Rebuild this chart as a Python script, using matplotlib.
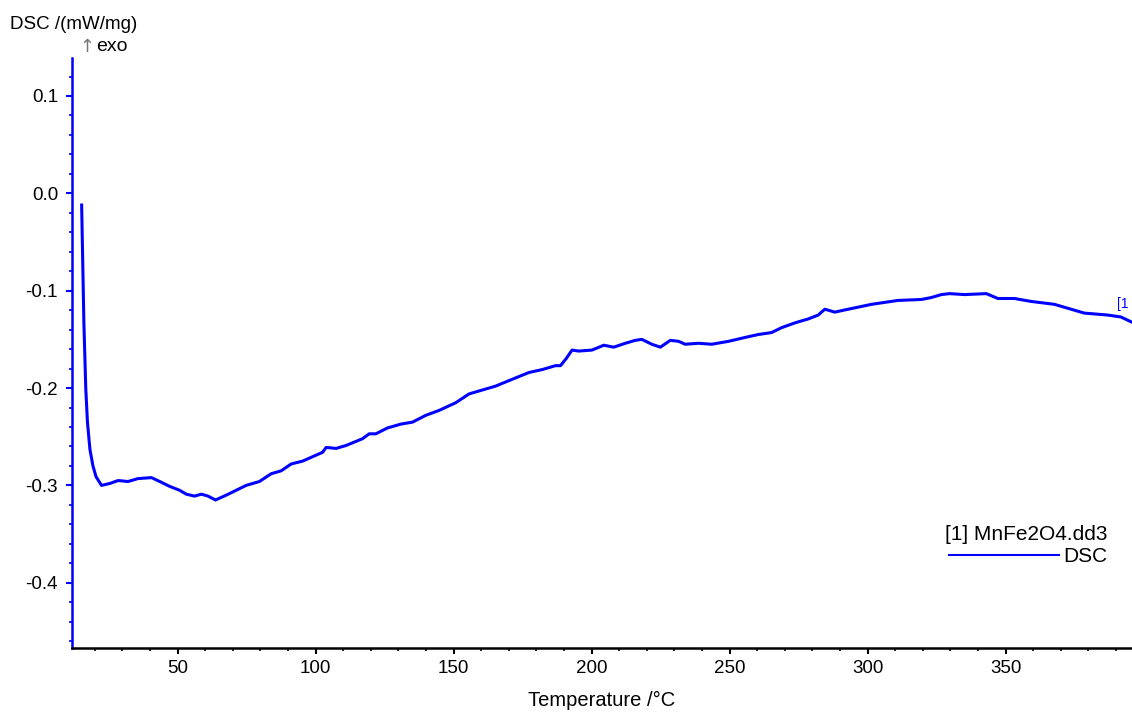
import matplotlib
matplotlib.use("Agg")
import matplotlib.pyplot as plt
from matplotlib.ticker import MultipleLocator, FormatStrFormatter
import numpy as np

# DSC trace of the MnFe2O4 sample, heating run
temperature = [
    15.2, 16.0, 16.7, 17.3, 18.2, 19.3, 20.4, 22.4, 25.4, 28.4, 32.0, 35.6,
    40.5, 43.5, 47.1, 50.7, 53.1, 56.1, 58.6, 61.0, 63.7, 67.6, 71.2, 74.8,
    79.6, 83.9, 87.5, 91.1, 95.3, 100.1, 102.5, 103.8, 107.4, 111.0, 117.0,
    119.4, 121.8, 126.0, 130.9, 135.1, 139.9, 144.7, 150.8, 155.6, 159.2,
    165.2, 171.2, 177.3, 182.1, 186.9, 188.7, 190.7, 192.9, 195.3, 200.1,
    204.4, 208.0, 212.2, 215.8, 218.2, 221.8, 224.9, 228.5, 231.5, 233.9,
    238.7, 243.5, 249.6, 255.6, 260.4, 265.2, 268.8, 273.7, 278.5, 282.1,
    284.5, 288.1, 293.0, 301.4, 311.0, 319.5, 323.1, 326.7, 329.7, 335.1,
    343.0, 347.2, 353.2, 359.2, 367.7, 373.7, 378.5, 387.0, 391.8, 395.5,
]
dsc = [
    -0.012, -0.132, -0.201, -0.235, -0.263, -0.280, -0.291, -0.300, -0.298,
    -0.295, -0.296, -0.293, -0.292, -0.296, -0.301, -0.305, -0.309, -0.311,
    -0.309, -0.311, -0.315, -0.310, -0.305, -0.300, -0.296, -0.288, -0.285,
    -0.278, -0.275, -0.269, -0.266, -0.261, -0.262, -0.259, -0.252, -0.247,
    -0.247, -0.241, -0.237, -0.235, -0.228, -0.223, -0.215, -0.206, -0.203,
    -0.198, -0.191, -0.184, -0.181, -0.177, -0.177, -0.170, -0.161, -0.162,
    -0.161, -0.156, -0.158, -0.154, -0.151, -0.150, -0.155, -0.158, -0.151,
    -0.152, -0.155, -0.154, -0.155, -0.152, -0.148, -0.145, -0.143, -0.138,
    -0.133, -0.129, -0.125, -0.119, -0.122, -0.119, -0.114, -0.110, -0.109,
    -0.107, -0.104, -0.103, -0.104, -0.103, -0.108, -0.108, -0.111, -0.114,
    -0.119, -0.123, -0.125, -0.127, -0.132,
]
x_ticks = [50, 100, 150, 200, 250, 300, 350]
y_ticks = [-0.4, -0.3, -0.2, -0.1, 0.0, 0.1]

plt.rcParams['font.family'] = ['Liberation Sans', 'DejaVu Sans']
plt.rcParams['axes.unicode_minus'] = False

fig = plt.figure(figsize=(11.32, 7.12), dpi=100)
ax = fig.add_axes([0.0636, 0.0899, 0.9364, 0.8286])

ax.plot(temperature, dsc, color="#0000ff", lw=2.2, label="DSC")

ax.set_xlim(11.7, 395.8)
ax.set_ylim(-0.467, 0.139)
ax.set_xticks(x_ticks)
ax.set_yticks(y_ticks)
ax.xaxis.set_minor_locator(MultipleLocator(10))
ax.yaxis.set_minor_locator(MultipleLocator(0.02))
ax.yaxis.set_major_formatter(FormatStrFormatter('%.1f'))

for side in ("top", "right"):
    ax.spines[side].set_visible(False)
ax.spines["left"].set_color("#0000ff")
ax.spines["left"].set_linewidth(1.8)
ax.spines["bottom"].set_linewidth(1.8)

ax.tick_params(axis="y", which="major", length=4, width=1.5, color="#0000ff",
               labelsize=13.5, pad=6)
ax.tick_params(axis="y", which="minor", length=2, width=1.2, color="#0000ff")
ax.tick_params(axis="x", which="major", length=4, width=1.5, labelsize=13.5, pad=5)
ax.tick_params(axis="x", which="minor", length=2.5, width=1.2)

ax.set_xlabel("Temperature /°C", fontsize=14.5, labelpad=10)

fig.text(0.009, 0.965, "DSC /(mW/mg)", fontsize=13.5, va="center", ha="left")
fig.text(0.0705, 0.934, "\u2191", fontsize=13, va="center", ha="left", color="#777777",
         family=['DejaVu Sans'])
fig.text(0.085, 0.934, "exo", fontsize=14, va="center", ha="left")

# run marker at the end of the trace
ax.annotate("[1", xy=(temperature[-1], dsc[-1]), xytext=(-10, 10),
            textcoords="offset points", color="#0000ff", fontsize=10,
            annotation_clip=False)

leg = ax.legend(title="[1] MnFe2O4.dd3", loc="upper right",
                bbox_to_anchor=(0.985, 0.222), frameon=False, fontsize=15,
                title_fontsize=15, handlelength=5.3, handletextpad=0.2,
                alignment="right", borderaxespad=0, labelspacing=0.2)
leg.get_lines()[0].set_linewidth(1.5)
leg._legend_box.sep = 2

fig.savefig("out.png", dpi=100)
